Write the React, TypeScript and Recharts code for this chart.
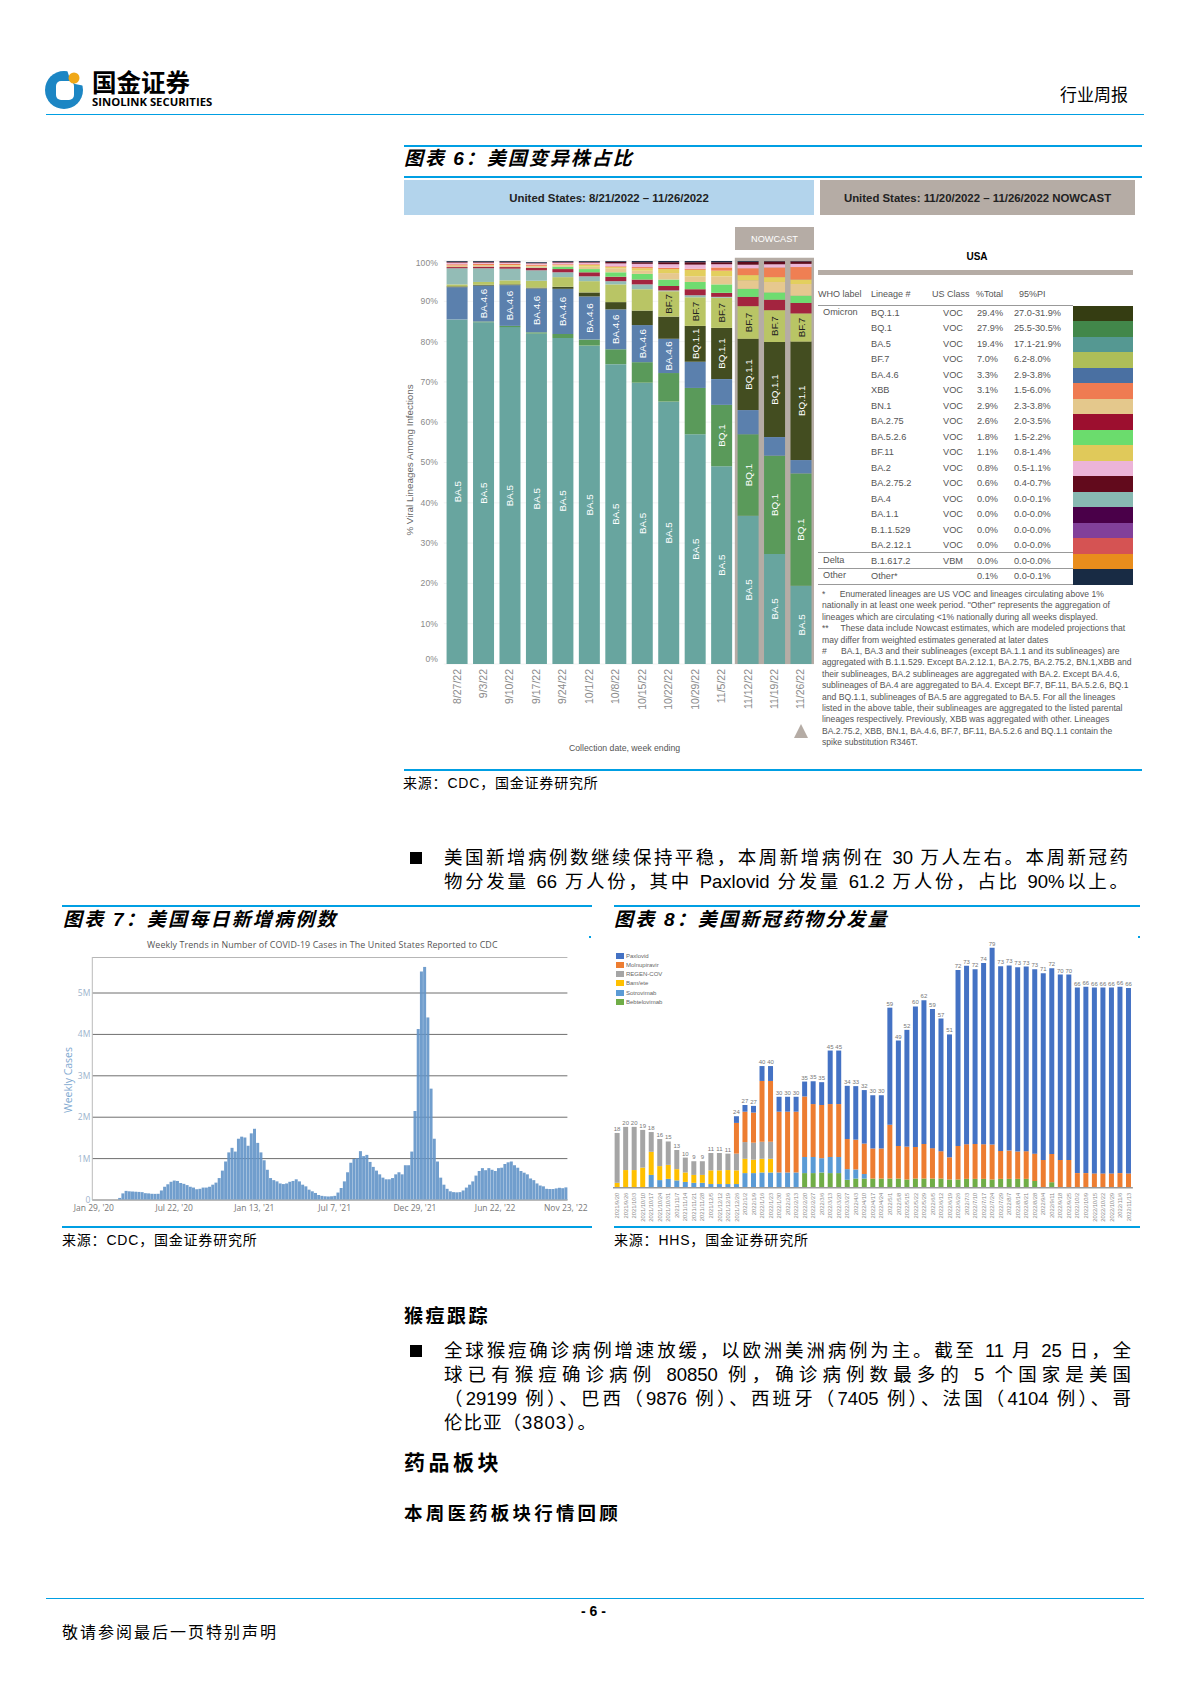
import { BarChart, Bar, XAxis, YAxis, CartesianGrid, ReferenceArea, LabelList } from 'recharts'

// 图表 6
const weeks6 = ['8/27/22', '9/3/22', '9/10/22', '9/17/22', '9/24/22', '10/1/22', '10/8/22', '10/15/22', '10/22/22', '10/29/22', '11/5/22', '11/12/22', '11/19/22', '11/26/22']
const ba5 = [85.5, 84.8, 83.6, 82, 80.9, 79, 74.4, 69.8, 65.1, 57, 49.1, 36.8, 27.3, 19.4]
const bq1 = [0, 0.2, 0.3, 0.3, 1, 1.5, 3.7, 5.1, 7.1, 11.5, 15.2, 20.2, 24.4, 27.9]
const ba46 = [8, 8.9, 10.1, 10.9, 11.2, 10.7, 9.9, 9.2, 8.5, 6.5, 6.4, 6, 4.6, 3.3]
const bq11 = [0.2, 0.2, 0.2, 0.2, 0.5, 1, 1.8, 3.6, 5.5, 8.9, 12.7, 17.7, 23.6, 29.4]
const bf7 = [0.5, 0.7, 1, 1.7, 2.4, 2.8, 4.4, 5.3, 6.3, 7.1, 7.5, 8.1, 7.9, 7]
const ba4 = [4, 3.4, 2.9, 2.6, 1.2, 1.2, 0.8, 1.2, 0.2, 0.5, 0.2, 0, 0, 0]
const ba275 = [0.3, 0.4, 0.4, 0.6, 0.8, 1, 1.1, 1.2, 1.1, 1.5, 1, 2.3, 2.6, 2.6]
const ba526 = [0, 0, 0, 0.1, 0.6, 0.8, 1.1, 1.4, 1.6, 1.8, 2.1, 2, 1.8, 1.8]
const bn1 = [0.4, 0.4, 0.4, 0.3, 0.3, 0.6, 1, 0.8, 1.6, 1.4, 2, 2.1, 2.6, 2.9]
const bf11 = [0, 0, 0.1, 0.1, 0.1, 0.4, 0.3, 0.6, 1, 1.6, 1.4, 1.3, 1.2, 1.1]
const xbb = [0.3, 0.3, 0.3, 0.3, 0.2, 0.2, 0.2, 0.3, 0.3, 0.3, 0.8, 1.7, 2.4, 3.1]
const ba2 = [0.4, 0.3, 0.3, 0.3, 0.4, 0.4, 0.7, 0.8, 0.9, 1, 0.8, 0.9, 0.8, 0.8]
const ba2752 = [0.2, 0.2, 0.2, 0.1, 0.2, 0.2, 0.4, 0.4, 0.5, 0.6, 0.5, 0.7, 0.7, 0.6]
const other6 = [0.2, 0.2, 0.2, 0.2, 0.2, 0.2, 0.2, 0.3, 0.3, 0.3, 0.3, 0.2, 0.1, 0.1]

const lineages = [
  { key: 'BA.5', values: ba5, color: '#68a59f', text: '#fff', labelFrom: 0 },
  { key: 'BQ.1', values: bq1, color: '#5a9a5a', text: '#fff', labelFrom: 9 },
  { key: 'BA.4.6', values: ba46, color: '#5b80ad', text: '#fff', labelFrom: 1, labelTo: 8 },
  { key: 'BQ.1.1', values: bq11, color: '#434d20', text: '#fff', labelFrom: 9 },
  { key: 'BF.7', values: bf7, color: '#b9c565', text: '#222', labelFrom: 8 },
  { key: 'BA.4', values: ba4, color: '#93bcb6' },
  { key: 'BA.2.75', values: ba275, color: '#a3243f' },
  { key: 'BA.5.2.6', values: ba526, color: '#6fdc70' },
  { key: 'BN.1', values: bn1, color: '#e6c88f' },
  { key: 'BF.11', values: bf11, color: '#e3cf5e' },
  { key: 'XBB', values: xbb, color: '#ef7f53' },
  { key: 'BA.2', values: ba2, color: '#ecb6d8' },
  { key: 'BA.2.75.2', values: ba2752, color: '#5f0b1c' },
  { key: 'Other', values: other6, color: '#1a2d47' },
]
const data6 = weeks6.map((week, i) => {
  const row: any = { week }
  lineages.forEach((l) => { row[l.key] = l.values[i] })
  return row
})
const ticks6 = [0, 10, 20, 30, 40, 50, 60, 70, 80, 90, 100]

const tableRows = [
  ['Omicron', 'BQ.1.1', 'VOC', '29.4%', '27.0-31.9%', '#353d12'],
  ['', 'BQ.1', 'VOC', '27.9%', '25.5-30.5%', '#42874a'],
  ['', 'BA.5', 'VOC', '19.4%', '17.1-21.9%', '#559892'],
  ['', 'BF.7', 'VOC', '7.0%', '6.2-8.0%', '#aebe58'],
  ['', 'BA.4.6', 'VOC', '3.3%', '2.9-3.8%', '#4a70a2'],
  ['', 'XBB', 'VOC', '3.1%', '1.5-6.0%', '#ef7b52'],
  ['', 'BN.1', 'VOC', '2.9%', '2.3-3.8%', '#e4c88c'],
  ['', 'BA.2.75', 'VOC', '2.6%', '2.0-3.5%', '#9c0f2f'],
  ['', 'BA.5.2.6', 'VOC', '1.8%', '1.5-2.2%', '#6bdc6d'],
  ['', 'BF.11', 'VOC', '1.1%', '0.8-1.4%', '#e0c95a'],
  ['', 'BA.2', 'VOC', '0.8%', '0.5-1.1%', '#ecb4d8'],
  ['', 'BA.2.75.2', 'VOC', '0.6%', '0.4-0.7%', '#620a1c'],
  ['', 'BA.4', 'VOC', '0.0%', '0.0-0.1%', '#88b9b2'],
  ['', 'BA.1.1', 'VOC', '0.0%', '0.0-0.0%', '#4a0049'],
  ['', 'B.1.1.529', 'VOC', '0.0%', '0.0-0.0%', '#82409a'],
  ['', 'BA.2.12.1', 'VOC', '0.0%', '0.0-0.0%', '#d55353'],
  ['Delta', 'B.1.617.2', 'VBM', '0.0%', '0.0-0.0%', '#e98d1c'],
  ['Other', 'Other*', '', '0.1%', '0.0-0.1%', '#182b44'],
]
const footnotes = [
  '*      Enumerated lineages are US VOC and lineages circulating above 1%',
  'nationally in at least one week period. "Other" represents the aggregation of',
  'lineages which are circulating <1% nationally during all weeks displayed.',
  '**     These data include Nowcast estimates, which are modeled projections that',
  'may differ from weighted estimates generated at later dates',
  '#      BA.1, BA.3 and their sublineages (except BA.1.1 and its sublineages) are',
  'aggregated with B.1.1.529. Except BA.2.12.1, BA.2.75, BA.2.75.2, BN.1,XBB and',
  'their sublineages, BA.2 sublineages are aggregated with BA.2. Except BA.4.6,',
  'sublineages of BA.4 are aggregated to BA.4. Except BF.7, BF.11, BA.5.2.6, BQ.1',
  'and BQ.1.1, sublineages of BA.5 are aggregated to BA.5. For all the lineages',
  'listed in the above table, their sublineages are aggregated to the listed parental',
  'lineages respectively. Previously, XBB was aggregated with other. Lineages',
  'BA.2.75.2, XBB, BN.1, BA.4.6, BF.7, BF.11, BA.5.2.6 and BQ.1.1 contain the',
  'spike substitution R346T.',
]

// 图表 7, thousands of cases per week
const weeklyCases = [
  0, 0, 0, 0, 0, 0, 0, 0, 50, 160, 220, 210, 205, 200, 195, 190, 165, 160, 150, 148,
  150, 230, 320, 380, 440, 470, 460, 410, 390, 360, 320, 300, 260, 270, 300, 300, 320, 370, 420, 530,
  710, 930, 1150, 1260, 1170, 1480, 1530, 1510, 1310, 1610, 1720, 1380, 1150, 960, 730, 530, 480, 450, 400, 385,
  400, 440, 460, 500, 450, 370, 330, 250, 210, 170, 120, 100, 90, 85, 90, 100, 180, 290, 450, 670,
  900, 990, 1010, 1180, 1060, 1090, 920, 800, 710, 620, 540, 500, 500, 530, 620, 670, 620, 840, 840, 1170,
  2150, 4130, 5520, 5630, 4410, 2690, 1480, 930, 540, 370, 270, 210, 190, 185, 190, 230, 300, 370, 450, 590,
  700, 770, 720, 770, 730, 700, 770, 780, 870, 910, 930, 840, 780, 700, 660, 620, 520, 480, 400, 350,
  330, 270, 265, 265, 280, 295, 285, 305,
]
const data7 = weeklyCases.map((cases, week) => ({ week, cases }))
const ticks7 = [0, 25, 50, 75, 100, 125, 147]
const tickLabels7 = ["Jan 29, '20", "Jul 22, '20", "Jan 13, '21", "Jul 7, '21", "Dec 29, '21", "Jun 22, '22", "Nov 23, '22"]

// 图表 8, 万人份
const dates8 = [
  '2021/9/20', '2021/9/26', '2021/10/3', '2021/10/10', '2021/10/17', '2021/10/24', '2021/10/31', '2021/11/7', '2021/11/14', '2021/11/21', '2021/11/28', '2021/12/5', '2021/12/12', '2021/12/19', '2021/12/26',
  '2022/1/2', '2022/1/9', '2022/1/16', '2022/1/23', '2022/1/30', '2022/2/6', '2022/2/13', '2022/2/20', '2022/2/27', '2022/3/6', '2022/3/13', '2022/3/20', '2022/3/27', '2022/4/3', '2022/4/10', '2022/4/17', '2022/4/24',
  '2022/5/1', '2022/5/8', '2022/5/15', '2022/5/22', '2022/5/29', '2022/6/5', '2022/6/12', '2022/6/19', '2022/6/26', '2022/7/3', '2022/7/10', '2022/7/17', '2022/7/24', '2022/7/29', '2022/8/7', '2022/8/14', '2022/8/21', '2022/8/28',
  '2022/9/4', '2022/9/11', '2022/9/18', '2022/9/25', '2022/10/2', '2022/10/9', '2022/10/15', '2022/10/22', '2022/10/29', '2022/11/6', '2022/11/13',
]
const bebtelovimab = [
  0, 0, 0, 0, 0, 0, 0, 0, 0, 0, 0, 0, 0, 0, 0, 0, 0, 0, 0, 0, 0, 0, 4.8, 4.8, 5, 4.8, 4.8, 2.6, 3, 3, 3, 3,
  3, 3, 2.7, 3, 3, 3, 3, 2.7, 2.7, 2.9, 2.9, 2.9, 2.7, 2.9, 2.9, 2.9, 2.9, 2.2, 0, 1.8, 0, 0, 0, 0, 0, 0, 0, 0, 0,
]
const sotrovimab = [
  0, 0, 0, 0, 4.2, 2.5, 2.9, 2.4, 1.9, 1.6, 1.6, 1.2, 1.2, 1.2, 1.2, 4.8, 4.8, 5, 5, 5, 5, 5, 5.3, 5.3, 4.7, 5.3, 5.3, 3.5, 3, 1.5, 0, 0,
  0, 0, 0, 0, 0, 0, 0, 0, 0, 0, 0, 0, 0, 0, 0, 0, 0, 0, 0, 0, 0, 0, 0, 0, 0, 0, 0, 0, 0,
]
const bamEte = [
  1.6, 5.8, 5.8, 6.6, 7.6, 4.6, 4.6, 3.7, 3.1, 2.6, 2.6, 4.5, 4.5, 4.6, 4.5, 4.7, 4.4, 4.5, 4.5, 0, 0, 0, 0, 0, 0, 0, 0, 0, 0, 0, 0, 0,
  0, 0, 0, 0, 0, 0, 0, 0, 0, 0, 0, 0, 0, 0, 0, 0, 0, 0, 0, 0, 0, 0, 0, 0, 0, 0, 0, 0, 0,
]
const regenCov = [
  16.4, 14.2, 14.2, 12.4, 6.5, 8.9, 7.7, 6.3, 4.9, 4.5, 4.5, 5.7, 5.7, 5.4, 5.5, 5.5, 5.6, 5.6, 5.6, 0, 0, 0, 0, 0, 0, 0, 0, 0, 0, 0, 0, 0,
  0, 0, 0, 0, 0, 0, 0, 0, 0, 0, 0, 0, 0, 0, 0, 0, 0, 0, 0, 0, 0, 0, 0, 0, 0, 0, 0, 0, 0,
]
const molnupiravir = [
  0, 0, 0, 0, 0, 0, 0, 0, 0, 0, 0, 0, 0, 0, 10.1, 10, 9.9, 20, 20, 20, 20, 20, 19.9, 17.4, 17.5, 17.4, 17.4, 9.9, 9.8, 10, 9.9, 9.9,
  17.7, 10.7, 10.8, 10.4, 11.4, 10, 9, 7.3, 11, 11.4, 11.5, 11.4, 11.5, 9.2, 9.3, 9, 9.1, 9, 9.1, 9.3, 9.1, 9.1, 4.8, 4.8, 4.7, 4.7, 4.7, 4.8, 4.7,
]
const paxlovid = [
  0, 0, 0, 0, 0, 0, 0, 0, 0, 0, 0, 0, 0, 0, 2.2, 2.2, 2.2, 4.9, 4.9, 4.9, 4.9, 4.9, 4.9, 7.5, 7.5, 17.6, 17.6, 17.5, 17.6, 17.6, 17.5, 17.5,
  38.5, 34.7, 38.4, 46.2, 47.2, 45.8, 43.6, 40.4, 57.9, 58.7, 57.4, 59.6, 64.7, 60.7, 60.9, 60.6, 60.7, 60.6, 61.4, 61.1, 61, 61, 61, 61.3, 61.1, 61.1, 61.1, 61.3, 61,
]
const totals8 = [
  18, 20, 20, 19, 18, 16, 15, 13, 10, 9, 9, 11, 11, 11, 24, 27, 27, 40, 40, 30, 30, 30, 35, 35, 35, 45, 45, 34, 33, 32, 30, 30,
  59, 49, 52, 60, 62, 59, 57, 51, 72, 73, 72, 74, 79, 73, 73, 73, 73, 73, 71, 72, 70, 70, 66, 66, 66, 66, 66, 66, 66,
]
const drugs = [
  { key: 'Bebtelovimab', values: bebtelovimab, color: '#70ad47' },
  { key: 'Sotrovimab', values: sotrovimab, color: '#5b9bd5' },
  { key: 'Bam/ete', values: bamEte, color: '#ffc000' },
  { key: 'REGEN-COV', values: regenCov, color: '#a5a5a5' },
  { key: 'Molnupiravir', values: molnupiravir, color: '#ed7d31' },
  { key: 'Paxlovid', values: paxlovid, color: '#4472c4' },
]
const data8 = dates8.map((date, i) => {
  // labelRoom is an empty slot on top of each stack that holds the total label
  const row: any = { date, total: totals8[i], labelRoom: 4 }
  drugs.forEach((d) => { row[d.key] = d.values[i] })
  return row
})

const ARIAL = '"Liberation Sans", Arial, sans-serif'
const CJK = '"Liberation Sans", "Noto Sans CJK SC", sans-serif'
const BLUE_LINE = '#009fe3'

function T({ x, y, size = 12, color = '#000', bold = false, italic = false, font = CJK, spacing = 0, width, center = false, children }: any) {
  return (
    <div
      style={{
        position: 'absolute', left: x, top: y, transform: 'translateY(-50%)', fontSize: size, color, fontFamily: font,
        fontWeight: bold ? 700 : 400, fontStyle: italic ? 'italic' : 'normal', letterSpacing: spacing, width,
        textAlign: center ? 'center' : 'left', whiteSpace: width && !center ? 'normal' : 'pre', lineHeight: 1,
        ...(width && !center ? { textAlignLast: 'justify' as const } : {}),
      }}
    >
      {children}
    </div>
  )
}

function Rule({ x, y, w, h = 2, color = BLUE_LINE }: any) {
  return <div style={{ position: 'absolute', left: x, top: y, width: w, height: h, background: color }} />
}

function RotatedTick({ x, y, payload, size, color, dy }: any) {
  return (
    <text
      x={x}
      y={y + dy}
      transform={`rotate(-90 ${x} ${y + dy})`}
      textAnchor="end"
      dominantBaseline="central"
      fontSize={size}
      fill={color}
      fontFamily={ARIAL}
    >
      {payload.value}
    </text>
  )
}

function PercentTick({ x, y, payload }: any) {
  const shift = payload.value === 0 ? -5 : payload.value === 100 ? 2 : 0
  return (
    <text x={x + 2} y={y + shift} textAnchor="end" dominantBaseline="central" fontSize={8.6} fill="#8a8a8a" fontFamily={ARIAL}>
      {payload.value}%
    </text>
  )
}

const lineageLabel = (l: any) => (props: any) => {
  const { x, y, width, height, index } = props
  if (index < l.labelFrom || (l.labelTo !== undefined && index > l.labelTo)) return null
  const cx = x + width / 2
  const cy = y + height / 2
  return (
    <text x={cx} y={cy} transform={`rotate(-90 ${cx} ${cy})`} textAnchor="middle" dominantBaseline="central" fontSize={9.8} fill={l.text} fontFamily={ARIAL}>
      {l.key}
    </text>
  )
}

function Chart6() {
  return (
    <div style={{ position: 'absolute', left: 404, top: 250 }}>
      <BarChart width={410.2} height={474} data={data6} margin={{ top: 11, right: 0, bottom: 0, left: 0 }} barCategoryGap="10.5%">
        <CartesianGrid horizontal vertical={false} stroke="#f3f3f3" />
        <ReferenceArea x1="11/12/22" x2="11/26/22" y1={0} y2={100.8} fill="#b5aca5" fillOpacity={1} stroke="none" ifOverflow="visible" />
        <XAxis
          dataKey="week"
          interval={0}
          height={60}
          axisLine={false}
          tickLine={false}
          tick={<RotatedTick size={10.5} color="#8a8a8a" dy={-3} />}
        />
        <YAxis width={39.8} domain={[0, 100]} ticks={ticks6} axisLine={false} tickLine={false} tick={<PercentTick />} />
        {lineages.map((l) => (
          <Bar key={l.key} dataKey={l.key} stackId="a" fill={l.color} isAnimationActive={false}>
            {l.text && <LabelList dataKey={l.key} content={lineageLabel(l)} />}
          </Bar>
        ))}
      </BarChart>
    </div>
  )
}

function LineageTable() {
  const rowH = 15.5
  return (
    <div>
      <T x={957} y={257} size={10} bold center width={40}>USA</T>
      <Rule x={818} y={270} w={315} h={5} color="#b5aca5" />
      {[['WHO label', 818], ['Lineage #', 871], ['US Class', 932], ['%Total', 976], ['95%PI', 1019]].map(([label, x]) => (
        <T key={label as string} x={x} y={294} size={9} color="#555" font={ARIAL}>{label}</T>
      ))}
      <Rule x={818} y={305} w={255} h={1} color="#999" />
      <Rule x={818} y={552} w={255} h={1} color="#999" />
      <Rule x={818} y={568} w={255} h={1} color="#999" />
      <Rule x={818} y={584} w={255} h={1} color="#999" />
      {tableRows.map((row, i) => {
        const y = 313.7 + i * rowH
        return (
          <div key={row[1]}>
            <T x={823} y={y - 1} size={9.2} color="#555" font={ARIAL}>{row[0]}</T>
            <T x={871} y={y} size={9.2} color="#555" font={ARIAL}>{row[1]}</T>
            <T x={943} y={y} size={9.2} color="#555" font={ARIAL}>{row[2]}</T>
            <T x={977} y={y} size={9.2} color="#555" font={ARIAL}>{row[3]}</T>
            <T x={1014} y={y} size={9.2} color="#555" font={ARIAL}>{row[4]}</T>
            <div style={{ position: 'absolute', left: 1073, top: 305.5 + i * rowH, width: 60, height: rowH, background: row[5] }} />
          </div>
        )
      })}
      {footnotes.map((line, i) => (
        <T key={i} x={822} y={594 + i * 11.4} size={8.6} color="#555" font={ARIAL}>{line}</T>
      ))}
    </div>
  )
}

function Chart7() {
  return (
    <div style={{ position: 'absolute', left: 62, top: 957 }}>
      <BarChart width={530} height={270} data={data7} margin={{ top: 0, right: 24.6, bottom: 0, left: 0 }} barCategoryGap="6%">
        <CartesianGrid horizontal vertical={false} stroke="#6f6f6f" strokeWidth={1} />
        <XAxis
          dataKey="week"
          interval={0}
          ticks={ticks7}
          height={27}
          axisLine={{ stroke: '#bbb' }}
          tickLine={false}
          tickSize={3}
          tickFormatter={(w: number) => tickLabels7[ticks7.indexOf(w)]}
          tick={{ fontSize: 8.5, fill: '#777', fontFamily: '"Open Sans", sans-serif' }}
        />
        <YAxis
          width={30.3}
          domain={[0, 5870]}
          ticks={[0, 1000, 2000, 3000, 4000, 5000]}
          axisLine={{ stroke: '#bbb' }}
          tickLine={false}
          tickSize={1}
          tickMargin={1}
          tickFormatter={(v: number) => (v === 0 ? '0' : `${v / 1000}M`)}
          tick={{ fontSize: 8.5, fill: '#9db3cc', fontFamily: '"Open Sans", sans-serif' }}
        />
        <Bar dataKey="cases" fill="#6293c8" fillOpacity={0.9} isAnimationActive={false} />
      </BarChart>
    </div>
  )
}

function DrugLegend() {
  return (
    <div style={{ position: 'absolute', left: 616, top: 952 }}>
      {[...drugs].reverse().map((d, i) => (
        <div key={d.key} style={{ position: 'absolute', left: 0, top: i * 9.3, display: 'flex', alignItems: 'center', height: 7 }}>
          <div style={{ width: 8, height: 6, background: d.color, marginRight: 2 }} />
          <span style={{ fontSize: 6, color: '#666', fontFamily: ARIAL, whiteSpace: 'pre' }}>{d.key}</span>
        </div>
      ))}
    </div>
  )
}

function Chart8() {
  return (
    <div style={{ position: 'absolute', left: 613.4, top: 914 }}>
      <BarChart width={519.9} height={308.7} data={data8} margin={{ top: 0, right: 0, bottom: 0, left: 0 }} barCategoryGap="19%">
        <XAxis
          dataKey="date"
          interval={0}
          height={35}
          axisLine={{ stroke: '#999', strokeWidth: 1.5 }}
          tickLine={false}
          tick={<RotatedTick size={5.8} color="#888" dy={-3} />}
        />
        <YAxis hide domain={[0, 90]} />
        {drugs.map((d) => (
          <Bar key={d.key} dataKey={d.key} stackId="a" fill={d.color} isAnimationActive={false} />
        ))}
        <Bar dataKey="labelRoom" stackId="a" fill="transparent" isAnimationActive={false}>
          <LabelList dataKey="total" position="insideBottom" fontSize={6} fill="#777" fontFamily={ARIAL} offset={2} />
        </Bar>
      </BarChart>
    </div>
  )
}

function Logo() {
  return (
    <svg width={40} height={40} style={{ position: 'absolute', left: 45, top: 70 }} viewBox="0 0 40 40">
      <circle cx="19" cy="20" r="19" fill="#1c86c4" />
      <rect x="11" y="11" width="18" height="19" rx="5" fill="#fff" />
      <path d="M22 0 L40 0 L40 16 L30 14 L25 9 Z" fill="#fff" />
      <circle cx="29" cy="8" r="5.5" fill="#f0a818" />
    </svg>
  )
}

export default function App() {
  return (
    <div style={{ position: 'absolute', left: 0, top: 0, width: 1189, height: 1683, background: '#fff', overflow: 'hidden' }}>
      <Logo />
      <T x={92} y={83.5} size={24.5} bold>国金证券</T>
      <T x={92} y={102} size={11.3} bold font={'"Open Sans", sans-serif'}>SINOLINK SECURITIES</T>
      <T x={1060} y={95} size={17}>行业周报</T>
      <Rule x={46} y={113.5} w={1098} h={1.5} />

      <Rule x={404} y={144.5} w={738} />
      <T x={404} y={158} size={19} bold italic spacing={2}>图表 6：美国变异株占比</T>
      <Rule x={404} y={175.5} w={738} />
      <div style={{ position: 'absolute', left: 404, top: 180, width: 410, height: 35, background: '#b3d4ec', display: 'flex', alignItems: 'center', justifyContent: 'center', fontFamily: ARIAL, fontWeight: 700, fontSize: 11.4, color: '#222' }}>
        United States: 8/21/2022 – 11/26/2022
      </div>
      <div style={{ position: 'absolute', left: 820, top: 180, width: 315, height: 35, background: '#b5aca5', display: 'flex', alignItems: 'center', justifyContent: 'center', fontFamily: ARIAL, fontWeight: 700, fontSize: 11.4, color: '#222' }}>
        United States: 11/20/2022 – 11/26/2022 NOWCAST
      </div>
      <div style={{ position: 'absolute', left: 735, top: 227, width: 79, height: 23, background: '#b5aca5', display: 'flex', alignItems: 'center', justifyContent: 'center', fontFamily: ARIAL, fontSize: 9.2, color: '#fff' }}>
        NOWCAST
      </div>
      <Chart6 />
      <div style={{ position: 'absolute', left: 409, top: 460, transform: 'translate(-50%,-50%) rotate(-90deg)', fontFamily: ARIAL, fontSize: 9.8, color: '#666', whiteSpace: 'pre' }}>
        % Viral Lineages Among Infections
      </div>
      <T x={569} y={748} size={8.7} color="#555" font={ARIAL}>Collection date, week ending</T>
      <svg width={16} height={16} style={{ position: 'absolute', left: 793, top: 723 }}>
        <polygon points="8,1 15,15 1,15" fill="#b5aca5" />
      </svg>
      <LineageTable />
      <Rule x={404} y={768.5} w={738} />
      <T x={403} y={783} size={14} spacing={0.8}>来源：CDC，国金证券研究所</T>

      <div style={{ position: 'absolute', left: 410, top: 852, width: 12, height: 12, background: '#000' }} />
      <T x={444} y={858} size={18.5} width={684}>美国新增病例数继续保持平稳，本周新增病例在 30 万人左右。本周新冠药</T>
      <T x={444} y={882} size={18.5} width={684}>物分发量 66 万人份，其中 Paxlovid 分发量 61.2 万人份，占比 90%以上。</T>

      <Rule x={62} y={905} w={530} />
      <T x={63} y={919} size={19} bold italic spacing={2.2}>图表 7：美国每日新增病例数</T>
      <div style={{ position: 'absolute', left: 589, top: 936, width: 2, height: 2, background: BLUE_LINE }} />
      <T x={147} y={945} size={8.9} color="#555" font={'"Open Sans", sans-serif'} spacing={0.1}>Weekly Trends in Number of COVID-19 Cases in The United States Reported to CDC</T>
      <Chart7 />
      <div style={{ position: 'absolute', left: 68, top: 1080, transform: 'translate(-50%,-50%) rotate(-90deg)', fontFamily: '"Open Sans", sans-serif', fontSize: 10.5, color: '#7ea8d0', whiteSpace: 'pre' }}>
        Weekly Cases
      </div>
      <Rule x={62} y={1226} w={530} />
      <T x={62} y={1240} size={14} spacing={0.8}>来源：CDC，国金证券研究所</T>

      <Rule x={614} y={905} w={526} />
      <T x={614} y={919} size={19} bold italic spacing={2.2}>图表 8：美国新冠药物分发量</T>
      <div style={{ position: 'absolute', left: 1138, top: 936, width: 2, height: 2, background: BLUE_LINE }} />
      <Chart8 />
      <DrugLegend />
      <Rule x={614} y={1226} w={526} />
      <T x={614} y={1240} size={14} spacing={0.8}>来源：HHS，国金证券研究所</T>

      <T x={404} y={1316} size={19} bold spacing={2.5}>猴痘跟踪</T>
      <div style={{ position: 'absolute', left: 410, top: 1345, width: 12, height: 12, background: '#000' }} />
      <T x={444} y={1351} size={18.5} width={687}>全球猴痘确诊病例增速放缓，以欧洲美洲病例为主。截至 11 月 25 日，全</T>
      <T x={444} y={1375} size={18.5} width={687}>球已有猴痘确诊病例 80850 例，确诊病例数最多的 5 个国家是美国</T>
      <T x={444} y={1399} size={18.5} width={687}>（29199 例）、巴西（9876 例）、西班牙（7405 例）、法国（4104 例）、哥</T>
      <T x={444} y={1423} size={18.5} spacing={1}>伦比亚（3803）。</T>

      <T x={404} y={1462} size={21} bold spacing={3.5}>药品板块</T>
      <T x={404} y={1514} size={18.5} bold spacing={3.2}>本周医药板块行情回顾</T>

      <Rule x={46} y={1597.5} w={1098} h={1.5} />
      <T x={581} y={1611} size={14} bold font={ARIAL}>- 6 -</T>
      <T x={62} y={1633} size={16} spacing={2}>敬请参阅最后一页特别声明</T>
    </div>
  )
}
